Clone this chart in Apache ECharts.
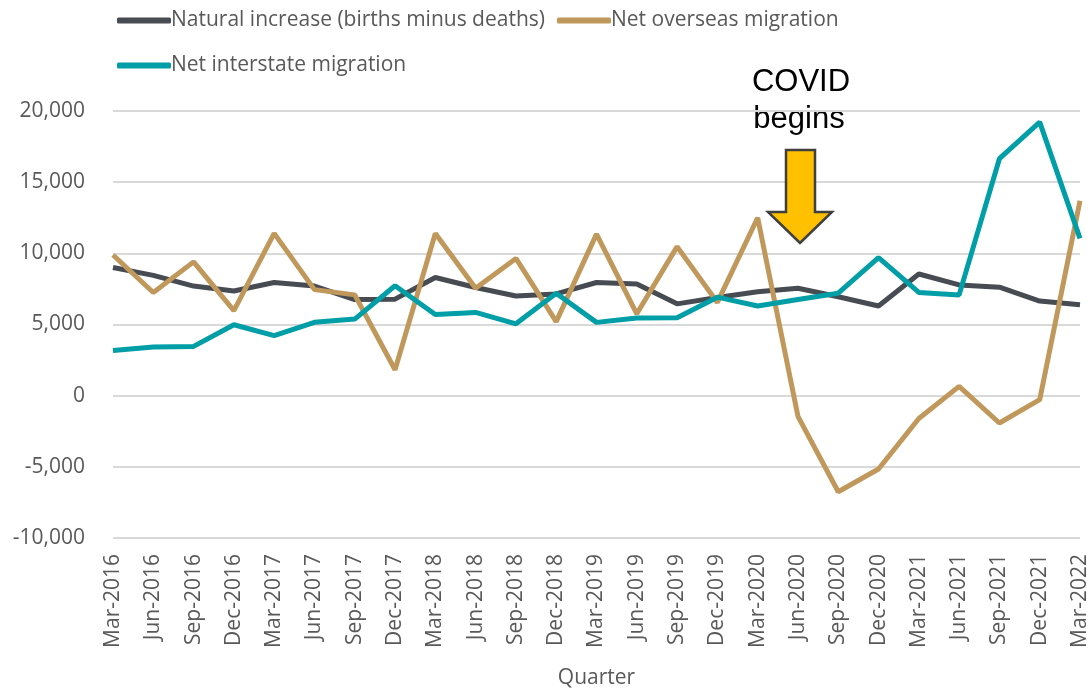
<!DOCTYPE html>
<html>
<head>
<meta charset="utf-8">
<script src="https://cdn.jsdelivr.net/npm/echarts@6/dist/echarts.min.js"></script>
<style>
  html, body { margin: 0; padding: 0; background: #fff; }
  #chart { width: 1090px; height: 688px; }
</style>
</head>
<body>
<div id="chart"></div>
<script>
const quarters = [
  "Mar-2016", "Jun-2016", "Sep-2016", "Dec-2016",
  "Mar-2017", "Jun-2017", "Sep-2017", "Dec-2017",
  "Mar-2018", "Jun-2018", "Sep-2018", "Dec-2018",
  "Mar-2019", "Jun-2019", "Sep-2019", "Dec-2019",
  "Mar-2020", "Jun-2020", "Sep-2020", "Dec-2020",
  "Mar-2021", "Jun-2021", "Sep-2021", "Dec-2021",
  "Mar-2022",
];
const naturalIncrease = [
  9000, 8450, 7700, 7350, 7950, 7700, 6750, 6780, 8300, 7600, 7000, 7150,
  7950, 7850, 6450, 6900, 7300, 7550, 6950, 6300, 8550, 7780, 7620, 6650, 6380,
];
const netOverseas = [
  9880, 7250, 9400, 5980, 11400, 7450, 7080, 1820, 11400, 7550, 9640, 5200,
  11350, 5750, 10470, 6550, 12500, -1450, -6750, -5150, -1600, 650, -1920, -280, 13700,
];
const netInterstate = [
  3180, 3420, 3460, 4980, 4220, 5150, 5380, 7720, 5700, 5850, 5050, 7200,
  5150, 5450, 5480, 6920, 6300, 6750, 7200, 9700, 7250, 7080, 16650, 19220, 11050,
];
const yTicks = { min: -10000, max: 20000, interval: 5000 };

const textGrey = "#595959";
const font = "'Open Sans', 'Noto Sans', sans-serif";

const chart = echarts.init(document.getElementById("chart"));

function line(name, data, color) {
  return {
    name,
    type: "line",
    data,
    symbol: "none",
    lineStyle: { width: 5, color },
    itemStyle: { color },
    z: 2,
  };
}

const legendText = { fontSize: 21, color: textGrey, fontFamily: font, padding: [0, 0, 0, -5] };

chart.setOption({
  animation: false,
  textStyle: { fontFamily: font },
  legend: [
    {
      left: 112, top: 5,
      data: ["Natural increase (births minus deaths)", "Net overseas migration"],
      icon: "roundRect",
      itemWidth: 54, itemHeight: 6, itemGap: 12,
      textStyle: legendText,
    },
    {
      left: 112, top: 50,
      data: ["Net interstate migration"],
      icon: "roundRect",
      itemWidth: 54, itemHeight: 6,
      textStyle: legendText,
    },
  ],
  grid: { left: 113, right: 10, top: 111, bottom: 150, containLabel: false, outerBoundsMode: "none" },
  xAxis: {
    type: "category",
    data: quarters,
    boundaryGap: false,
    name: "Quarter",
    nameLocation: "middle",
    nameGap: 130,
    nameTextStyle: { fontSize: 21, color: textGrey, fontFamily: font },
    axisLine: { show: false },
    axisTick: { show: false },
    axisLabel: { rotate: 90, fontSize: 21, color: textGrey, margin: 16, interval: 0, fontFamily: font },
  },
  yAxis: {
    type: "value",
    min: yTicks.min,
    max: yTicks.max,
    interval: yTicks.interval,
    axisLabel: {
      fontSize: 21, color: textGrey, margin: 28, fontFamily: font,
      formatter: (v) => v.toLocaleString("en-US"),
    },
    splitLine: { lineStyle: { color: "#d9d9d9", width: 2 } },
  },
  series: [
    line("Natural increase (births minus deaths)", naturalIncrease, "#474b52"),
    line("Net overseas migration", netOverseas, "#c0985b"),
    line("Net interstate migration", netInterstate, "#009ea6"),
  ],
  graphic: [
    {
      type: "text", x: 801, y: 67,
      style: { text: "COVID", fill: "#000", font: "31px 'Liberation Sans', Arial, sans-serif", align: "center", verticalAlign: "top" },
    },
    {
      type: "text", x: 799, y: 104,
      style: { text: "begins", fill: "#000", font: "31px 'Liberation Sans', Arial, sans-serif", align: "center", verticalAlign: "top" },
    },
    {
      type: "polygon",
      shape: { points: [[786, 150], [815, 150], [815, 212], [832, 212], [800, 243], [768, 212], [786, 212]] },
      style: { fill: "#ffc000", stroke: "#3f3f3f", lineWidth: 2.5 },
      z: 10,
    },
  ],
});
</script>
</body>
</html>
